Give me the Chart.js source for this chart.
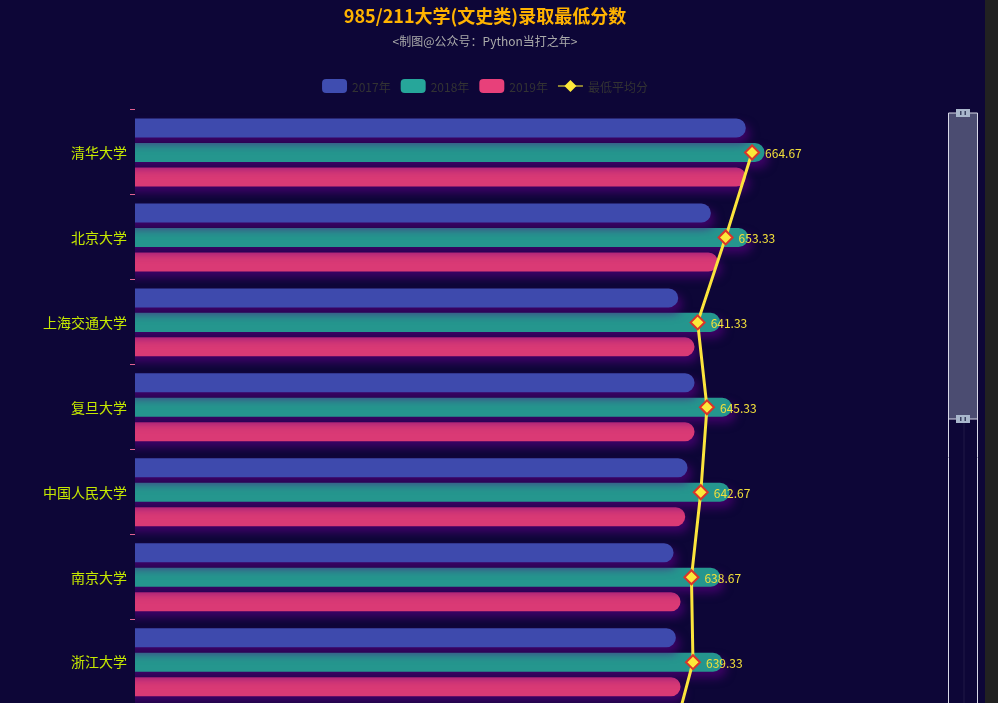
<!DOCTYPE html>
<html><head><meta charset="utf-8">
<script src="https://cdn.jsdelivr.net/npm/chart.js@4.4.0/dist/chart.umd.min.js"></script>
<style>
html,body{margin:0;padding:0;background:#0d0637;overflow:hidden;width:998px;height:703px;}
#wrap{position:absolute;left:0;top:0;width:985px;height:801px;}
#strip{position:absolute;left:985px;top:0;width:13px;height:703px;background:#212121;}
</style></head><body>
<div id="wrap"><canvas id="c" width="985" height="801"></canvas></div><div id="strip"></div>
<script>
const universities = ['清华大学','北京大学','上海交通大学','复旦大学','中国人民大学','南京大学','浙江大学','武汉大学'];
const scores2017 = [662, 647, 633, 640, 637, 631, 632, 620];
const scores2018 = [670, 663, 651, 656, 655, 651, 652, 642];
const scores2019 = [662, 650, 640, 640, 636, 634, 634, 627];
const avgScores  = [664.67, 653.33, 641.33, 645.33, 642.67, 638.67, 639.33, 629.67];
const seriesNames = ['2017年','2018年','2019年','最低平均分'];
const titleText = '985/211大学(文史类)录取最低分数';
const subtitleText = '<制图@公众号：Python当打之年>';

const FONT = '"Noto Sans CJK SC","Noto Sans",sans-serif';
const barColors = ['#3e4aad', '#25968e', '#da3a75'];
const legendColors = ['#3f4db0', '#26a69a', '#e8407a'];

function barDs(label, data, color){
  return {label, data, backgroundColor:color, borderRadius:10, borderSkipped:'start',
    categoryPercentage:0.865, barPercentage:0.776, order:1};
}

const shadowPlugin = {
  id:'shadow',
  beforeDatasetDraw(chart, args){
    if (args.meta.type === 'bar'){
      const c = chart.ctx; c.save();
      c.shadowColor = 'rgba(90,0,130,0.65)';
      c.shadowBlur = 10; c.shadowOffsetX = 4; c.shadowOffsetY = 6;
    }
  },
  afterDatasetDraw(chart, args){
    if (args.meta.type === 'bar') chart.ctx.restore();
  }
};

const labelPlugin = {
  id:'labels',
  afterDatasetsDraw(chart){
    const c = chart.ctx;
    c.save();
    c.textBaseline = 'middle';
    chart.data.datasets.forEach((ds, i) => {
      const meta = chart.getDatasetMeta(i);
      meta.data.forEach((el, j) => {
        if (meta.type === 'bar'){
          const p = el.getProps(['x','y','base'], true);
          c.font = '13px ' + FONT; c.fillStyle = '#f2f2f2'; c.textAlign = 'center';
          c.fillText(String(ds.data[j]), (p.x + p.base)/2, p.y + 1);
        } else {
          const p = el.getProps(['x','y'], true);
          c.font = '12px ' + FONT; c.fillStyle = '#f3e03a'; c.textAlign = 'left';
          c.fillText(ds.data[j].toFixed(2), p.x + 13, p.y + 1);
        }
      });
    });
    c.restore();
  }
};

const decorPlugin = {
  id:'decor',
  afterDraw(chart){
    const c = chart.ctx;
    c.save();
    const cx = 485;
    c.textAlign = 'center'; c.textBaseline = 'middle';
    c.font = 'bold 18px ' + FONT; c.fillStyle = '#ffb300';
    c.fillText(titleText, cx, 16);
    c.font = '12px ' + FONT; c.fillStyle = '#aaaaaa';
    c.fillText(subtitleText, cx, 41);
    // legend
    c.font = '12px ' + FONT;
    const iconW = 25, gapT = 5, gapI = 10;
    const widths = seriesNames.map(n => iconW + gapT + c.measureText(n).width);
    const total = widths.reduce((a,b)=>a+b,0) + gapI*(widths.length-1);
    let x = cx - total/2; const ly = 86;
    seriesNames.forEach((n, i) => {
      if (i < 3){
        c.fillStyle = legendColors[i];
        c.beginPath(); c.roundRect(x, ly-7, iconW, 14, 4); c.fill();
      } else {
        c.strokeStyle = '#8c8132'; c.lineWidth = 2;
        c.beginPath(); c.moveTo(x, ly); c.lineTo(x+iconW, ly); c.stroke();
        c.fillStyle = '#fde93a';
        c.beginPath(); c.moveTo(x+iconW/2-6, ly); c.lineTo(x+iconW/2, ly-6);
        c.lineTo(x+iconW/2+6, ly); c.lineTo(x+iconW/2, ly+6); c.closePath(); c.fill();
      }
      c.fillStyle = '#333333'; c.textAlign = 'left';
      c.fillText(n, x + iconW + gapT, ly + 1);
      x += widths[i] + gapI;
    });
    // dataZoom slider
    const zl = 948.5, zr = 977.5, zt = 113, zb = 419;
    c.fillStyle = '#4b4c71';
    c.fillRect(zl, zt, zr-zl, zb-zt);
    c.fillStyle = 'rgba(255,255,255,0.04)';
    c.fillRect(963, zb, 2, 800);
    c.strokeStyle = '#d8d8e8'; c.lineWidth = 1;
    c.beginPath();
    c.moveTo(zl, zt); c.lineTo(zl, 810);
    c.moveTo(zr, zt); c.lineTo(zr, 810);
    c.moveTo(zl, zt); c.lineTo(zr, zt);
    c.moveTo(zl, zb); c.lineTo(zr, zb);
    c.stroke();
    [zt, zb].forEach(hy => {
      c.fillStyle = '#a9b7cc';
      c.fillRect(956, hy-4, 14, 8);
      c.fillStyle = '#3b4261';
      c.fillRect(960, hy-2, 1.5, 4);
      c.fillRect(964.5, hy-2, 1.5, 4);
    });
    c.restore();
  }
};

new Chart(document.getElementById('c'), {
  type:'bar',
  data:{
    labels: universities,
    datasets:[
      barDs(seriesNames[0], scores2017, barColors[0]),
      barDs(seriesNames[1], scores2018, barColors[1]),
      barDs(seriesNames[2], scores2019, barColors[2]),
      {type:'line', label:seriesNames[3], data:avgScores, borderColor:'#fbe43c', borderWidth:3,
       pointStyle:'rectRot', pointRadius:7, pointHoverRadius:7, pointBackgroundColor:'#fde93a',
       pointBorderColor:'#d9342b', pointBorderWidth:2, tension:0, order:0, fill:false}
    ]
  },
  options:{
    indexAxis:'y', responsive:false, animation:false, devicePixelRatio:1,
    layout:{padding:{top:110, right:34, left:0, bottom:0}},
    plugins:{legend:{display:false}, tooltip:{enabled:false}, title:{display:false}},
    scales:{
      x:{display:false, min:400, max:750},
      y:{
        afterFit(s){ s.width = 135; },
        grid:{drawOnChartArea:false, drawTicks:true, tickLength:5, tickColor:'#e0608f', offset:true},
        border:{display:false},
        ticks:{color:'#c6e800', font:{size:14, family:FONT}, padding:3}
      }
    }
  },
  plugins:[shadowPlugin, labelPlugin, decorPlugin]
});
</script>
</body></html>
